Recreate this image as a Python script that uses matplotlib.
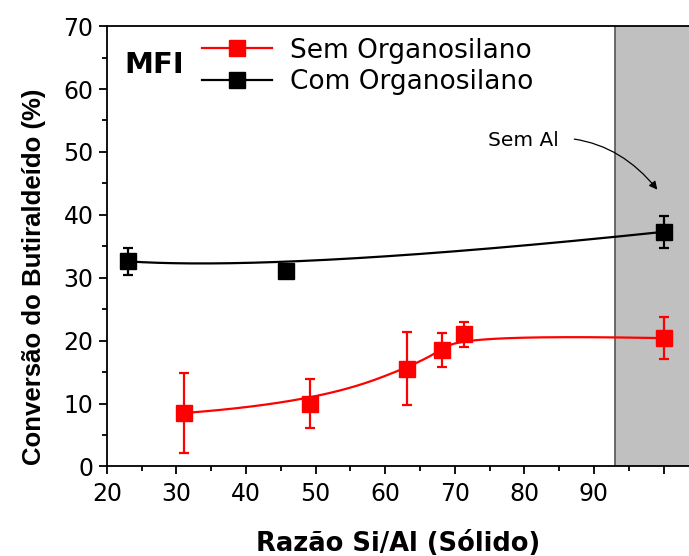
import numpy as np
import matplotlib
matplotlib.use("Agg")
import matplotlib.pyplot as plt
from matplotlib.lines import Line2D

plt.rcParams['font.family'] = ['DejaVu Sans']

# Data
x_sem = [31.1, 49.2, 63.2, 68.1, 71.3, 100.0]
y_sem = [8.5, 10.0, 15.5, 18.5, 21.0, 20.4]
e_sem = [6.4, 3.9, 5.8, 2.7, 2.0, 3.3]

x_com = [23.1, 45.7, 100.0]
y_com = [32.6, 31.0, 37.3]
e_com = [2.2, 0.3, 2.5]

xticks = [20, 30, 40, 50, 60, 70, 80, 90, 100]
xticklabels = ['20', '30', '40', '50', '60', '70', '80', '90', '']
yticks = [0, 10, 20, 30, 40, 50, 60, 70]


def bspline(xs, ys, n=300):
    """Clamped uniform B-spline using data points as control points."""
    P = np.column_stack([xs, ys]).astype(float)
    m = len(P)
    k = min(3, m - 1)
    inner = np.linspace(0, 1, m - k + 1)
    knots = np.concatenate([np.zeros(k), inner, np.ones(k)])
    t = np.linspace(0, 1, n)
    t[-1] = 1 - 1e-12

    def basis(i, p, tt):
        if p == 0:
            return np.where((knots[i] <= tt) & (tt < knots[i + 1]), 1.0, 0.0)
        out = np.zeros_like(tt)
        d1 = knots[i + p] - knots[i]
        d2 = knots[i + p + 1] - knots[i + 1]
        if d1 > 0:
            out += (tt - knots[i]) / d1 * basis(i, p - 1, tt)
        if d2 > 0:
            out += (knots[i + p + 1] - tt) / d2 * basis(i + 1, p - 1, tt)
        return out

    B = np.array([basis(i, k, t) for i in range(m)])
    curve = B.T @ P
    return curve[:, 0], curve[:, 1]


fig = plt.figure(figsize=(6.89, 5.56), dpi=100)
ax = fig.add_axes([0.155, 0.161, 0.845, 0.792])

ax.axvspan(93, 110, color='#c0c0c0', zorder=0, lw=0)
ax.axvline(93, color='#555555', lw=1.2, zorder=0.5)

cx, cy = bspline(x_sem, y_sem)
ax.plot(cx, cy, color='#ff0000', lw=1.6, zorder=2)
cx, cy = bspline(x_com, y_com)
ax.plot(cx, cy, color='black', lw=1.6, zorder=2)

ax.errorbar(x_sem, y_sem, yerr=e_sem, fmt='s', color='#ff0000', ms=11,
            capsize=3.5, elinewidth=1.6, capthick=1.6, zorder=3)
ax.errorbar(x_com, y_com, yerr=e_com, fmt='s', color='black', ms=11,
            capsize=3.5, elinewidth=1.6, capthick=1.6, zorder=3)

ax.set_xlim(20, 103.65)
ax.set_ylim(0, 70)
ax.set_xticks(xticks)
ax.set_xticklabels(xticklabels)
ax.set_yticks(yticks)
ax.set_xticks(np.arange(25, 104, 10), minor=True)
ax.set_yticks(np.arange(5, 70, 10), minor=True)
ax.tick_params(which='major', direction='out', length=6, width=1.3, labelsize=17)
ax.tick_params(axis='x', which='major', pad=5)
ax.tick_params(which='minor', direction='out', length=3.5, width=1.3)
for s in ['left', 'bottom', 'top']:
    ax.spines[s].set_linewidth(1.3)
ax.spines['right'].set_visible(False)

ax.set_xlabel('Razão Si/Al (Sólido)', fontsize=18.5, fontweight='bold', labelpad=18)
ax.set_ylabel('Conversão do Butiraldeído (%)', fontsize=18.5, fontweight='bold',
              family=['Liberation Sans', 'DejaVu Sans'])
ax.yaxis.set_label_coords(-0.105, 0.431)

# Legend
h1 = Line2D([], [], color='#ff0000', marker='s', ms=11.5, lw=1.6)
h2 = Line2D([], [], color='black', marker='s', ms=11.5, lw=1.6)
leg = ax.legend([h1, h2], ['Sem Organosilano', 'Com Organosilano'],
                loc='upper left', bbox_to_anchor=(0.122, 1.028), frameon=False,
                fontsize=19, handlelength=2.65, handletextpad=0.69, labelspacing=0.22)

ax.text(0.031, 0.9115, 'MFI', transform=ax.transAxes, fontsize=21,
        fontweight='bold', va='center', ha='left')

ax.annotate('Sem Al', xy=(99.1, 44.0), xytext=(79.9, 51.8), fontsize=14.5,
            ha='center', va='center',
            arrowprops=dict(arrowstyle='-|>', color='black', lw=0.9,
                            connectionstyle='arc3,rad=-0.3',
                            shrinkA=9, shrinkB=0, mutation_scale=12))

fig.savefig('out.png', dpi=100)
